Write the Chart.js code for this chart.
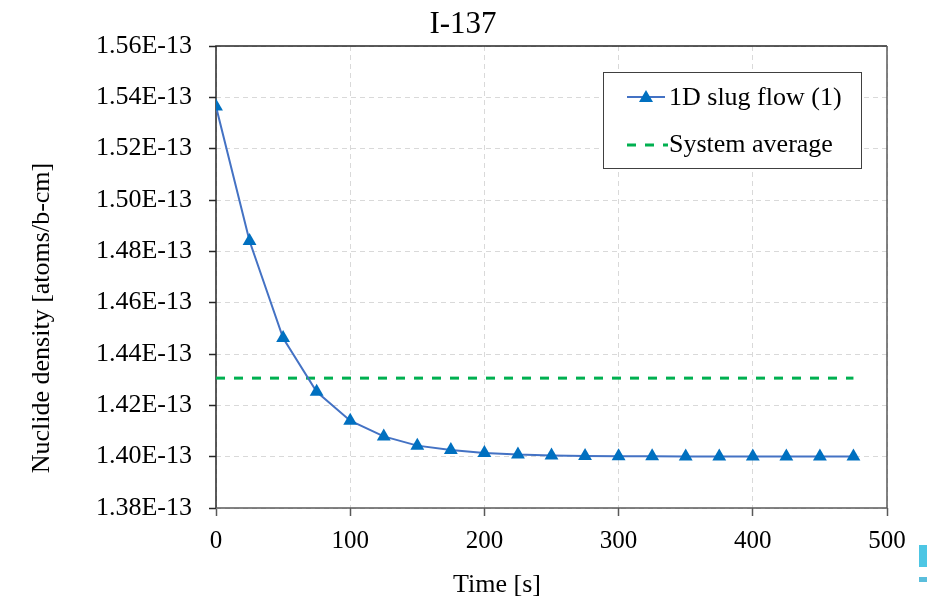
<!DOCTYPE html>
<html>
<head>
<meta charset="utf-8">
<title>I-137</title>
<script src="https://cdn.jsdelivr.net/npm/chart.js@4"></script>
<style>
  html, body { margin: 0; padding: 0; background: #fff; }
  #wrap { position: relative; width: 927px; height: 598px; }
  #mark1 { position: absolute; left: 919px; top: 545px; width: 8px; height: 22px; background: #4dc6e4; }
  #mark2 { position: absolute; left: 919px; top: 577px; width: 8px; height: 5px; background: #5abedc; }
</style>
</head>
<body>
<div id="wrap">
  <canvas id="grafico" width="927" height="598"></canvas>
  <div id="mark1"></div>
  <div id="mark2"></div>
</div>
<script>
// dados (densidade em átomos/b-cm)
const tempos = [0, 25, 50, 75, 100, 125, 150, 175, 200, 225, 250, 275, 300, 325, 350, 375, 400, 425, 450, 475];
const slugFlow = [1.5364e-13, 1.4840e-13, 1.4462e-13, 1.4253e-13, 1.4140e-13, 1.4079e-13, 1.4043e-13, 1.4026e-13,
                  1.4014e-13, 1.4008e-13, 1.4005e-13, 1.4003e-13, 1.4002e-13, 1.4002e-13, 1.4001e-13, 1.4001e-13,
                  1.4001e-13, 1.4001e-13, 1.4001e-13, 1.4001e-13];
const mediaSistema = 1.4306e-13;
const ticksY = [1.38e-13, 1.40e-13, 1.42e-13, 1.44e-13, 1.46e-13, 1.48e-13, 1.50e-13, 1.52e-13, 1.54e-13, 1.56e-13];
const ticksX = [0, 100, 200, 300, 400, 500];

const fonte = '"Liberation Serif", "Times New Roman", serif';
const corLinha = '#4472c4';
const corMarcador = '#0070c0';
const corMedia = '#00b050';

// moldura do gráfico (topo e direita também)
const moldura = {
    id: 'moldura',
    beforeDatasetsDraw(chart) {
        const { ctx, chartArea: a } = chart;
        ctx.save();
        ctx.lineWidth = 1.5;
        ctx.strokeStyle = '#262626';
        ctx.beginPath();
        ctx.moveTo(a.left, a.bottom);
        ctx.lineTo(a.left, a.top);
        ctx.lineTo(a.right, a.top);
        ctx.stroke();
        ctx.strokeStyle = '#595959';
        ctx.beginPath();
        ctx.moveTo(a.left, a.bottom);
        ctx.lineTo(a.right, a.bottom);
        ctx.lineTo(a.right, a.top);
        ctx.stroke();
        ctx.restore();
    }
};

// título, títulos dos eixos e legenda desenhados à mão
const extras = {
    id: 'extras',
    afterDraw(chart) {
        const ctx = chart.ctx;
        ctx.save();
        ctx.fillStyle = '#000';
        ctx.font = '31px ' + fonte;
        ctx.textAlign = 'center';
        ctx.textBaseline = 'alphabetic';
        ctx.fillText('I-137', 463, 33);

        ctx.font = '26px ' + fonte;
        ctx.fillText('Time [s]', 497, 592);

        ctx.save();
        ctx.translate(49, 318);
        ctx.rotate(-Math.PI / 2);
        ctx.fillText('Nuclide density [atoms/b-cm]', 0, 0);
        ctx.restore();

        // caixa da legenda
        ctx.fillStyle = '#fff';
        ctx.fillRect(603, 72, 258, 96);
        ctx.lineWidth = 1;
        ctx.strokeStyle = '#404040';
        ctx.strokeRect(603.5, 72.5, 258, 96);

        ctx.lineWidth = 2;
        ctx.strokeStyle = corLinha;
        ctx.beginPath();
        ctx.moveTo(627, 97);
        ctx.lineTo(665, 97);
        ctx.stroke();
        ctx.fillStyle = corMarcador;
        ctx.beginPath();
        ctx.moveTo(646, 90);
        ctx.lineTo(653, 102);
        ctx.lineTo(639, 102);
        ctx.closePath();
        ctx.fill();

        ctx.lineWidth = 3;
        ctx.strokeStyle = corMedia;
        ctx.setLineDash([9, 9]);
        ctx.beginPath();
        ctx.moveTo(627, 145);
        ctx.lineTo(668, 145);
        ctx.stroke();
        ctx.setLineDash([]);

        ctx.fillStyle = '#000';
        ctx.font = '26px ' + fonte;
        ctx.textAlign = 'left';
        ctx.textBaseline = 'middle';
        ctx.fillText('1D slug flow (1)', 669, 98);
        ctx.fillText('System average', 669, 145);
        ctx.restore();
    }
};

new Chart(document.getElementById('grafico'), {
    type: 'scatter',
    data: {
        datasets: [
            {
                label: '1D slug flow (1)',
                data: tempos.map((t, i) => ({ x: t, y: slugFlow[i] })),
                showLine: true,
                borderColor: corLinha,
                borderWidth: 2,
                pointStyle: 'triangle',
                pointRadius: 8,
                pointBackgroundColor: corMarcador,
                pointBorderColor: corMarcador,
                pointBorderWidth: 0,
                order: 1
            },
            {
                label: 'System average',
                data: [{ x: tempos[0], y: mediaSistema }, { x: tempos[tempos.length - 1], y: mediaSistema }],
                showLine: true,
                borderColor: corMedia,
                borderWidth: 3,
                borderDash: [9, 9],
                pointRadius: 0,
                order: 2
            }
        ]
    },
    options: {
        responsive: false,
        animation: false,
        layout: { padding: { top: 46, right: 40, left: 0, bottom: 0 } },
        plugins: {
            legend: { display: false },
            title: { display: false },
            tooltip: { enabled: false }
        },
        scales: {
            x: {
                type: 'linear',
                min: 0,
                max: 500,
                afterFit: s => { s.height = 90; },
                afterBuildTicks: s => { s.ticks = ticksX.map(v => ({ value: v })); },
                border: { display: false, dash: [5, 4] },
                grid: {
                    color: '#d9d9d9',
                    lineWidth: 1,
                    tickLength: 8,
                    tickColor: '#595959',
                    tickWidth: 1.5,
                    tickBorderDash: []
                },
                ticks: {
                    color: '#000',
                    font: { family: fonte, size: 25 },
                    padding: 10,
                    maxRotation: 0
                },
                title: { display: false }
            },
            y: {
                type: 'linear',
                min: 1.38e-13,
                max: 1.56e-13,
                afterFit: s => { s.width = 216; },
                afterBuildTicks: s => { s.ticks = ticksY.map(v => ({ value: v })); },
                border: { display: false, dash: [5, 4] },
                grid: {
                    color: '#d9d9d9',
                    lineWidth: 1,
                    tickLength: 7,
                    tickColor: '#262626',
                    tickWidth: 1.5,
                    tickBorderDash: []
                },
                ticks: {
                    color: '#000',
                    font: { family: fonte, size: 26 },
                    padding: 17,
                    callback: v => (v * 1e13).toFixed(2) + 'E-13'
                },
                title: { display: false }
            }
        }
    },
    plugins: [moldura, extras]
});
</script>
</body>
</html>
